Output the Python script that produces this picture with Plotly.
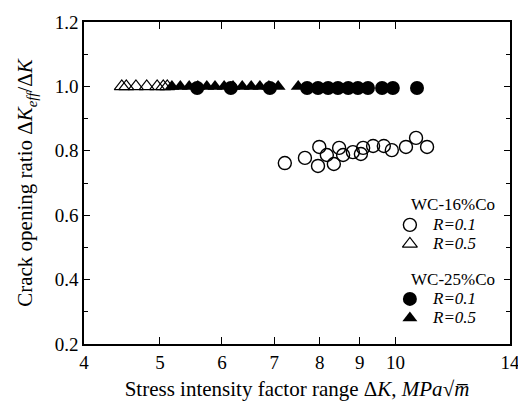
import plotly.graph_objects as go

# WC-16%Co, R=0.1 (open circles)
x16_r01 = [7.22, 7.66, 7.96, 7.99, 8.17, 8.34, 8.47, 8.57, 8.82, 9.03, 9.09, 9.36, 9.66, 9.89, 10.31, 10.62, 10.97]
y16_r01 = [0.762, 0.778, 0.753, 0.812, 0.787, 0.759, 0.809, 0.787, 0.796, 0.790, 0.809, 0.815, 0.815, 0.802, 0.812, 0.840, 0.812]

# WC-16%Co, R=0.5 (open triangles)
x16_r05 = [4.47, 4.53, 4.66, 4.81, 4.96, 5.05, 5.11]
y16_r05 = [1.0, 1.0, 1.0, 1.0, 1.0, 1.0, 1.0]

# WC-25%Co, R=0.1 (filled circles)
x25_r01 = [5.58, 6.16, 6.91, 7.71, 7.96, 8.20, 8.44, 8.70, 8.95, 9.22, 9.61, 9.92, 10.65]
y25_r01 = [0.995] * 13

# WC-25%Co, R=0.5 (filled triangles)
x25_r05 = [5.18, 5.31, 5.45, 5.59, 5.74, 5.88, 6.04, 6.20, 6.37, 6.54, 6.71, 6.89, 7.08, 7.51]
y25_r05 = [1.0] * 14

xtick_vals = [4, 5, 6, 7, 8, 9, 10, 14]
xtick_text = ["4", "5", "6", "7", "8", "9", "10", "14"]
ytick_vals = [0.2, 0.4, 0.6, 0.8, 1.0, 1.2]
ytick_text = ["0.2", "0.4", "0.6", "0.8", "1.0", "1.2"]

# legend key (drawn inside the plot area)
legend_groups = ["WC-16%Co", "WC-25%Co"]
legend_labels = ["R=0.1", "R=0.5", "R=0.1", "R=0.5"]

FONT = "Liberation Serif"
OPEN_CIRCLE = dict(symbol="circle-open", size=13, color="black", line=dict(width=1.4, color="black"))
OPEN_TRI = dict(symbol="triangle-up-open", size=13, color="black", line=dict(width=1.2, color="black"))
FILL_CIRCLE = dict(symbol="circle", size=14, color="black")
FILL_TRI = dict(symbol="triangle-up", size=13, color="black")

fig = go.Figure()
fig.add_trace(go.Scatter(x=x16_r01, y=y16_r01, mode="markers", marker=OPEN_CIRCLE, showlegend=False))
fig.add_trace(go.Scatter(x=x16_r05, y=y16_r05, mode="markers", marker=OPEN_TRI, showlegend=False))
fig.add_trace(go.Scatter(x=x25_r01, y=y25_r01, mode="markers", marker=FILL_CIRCLE, showlegend=False))
fig.add_trace(go.Scatter(x=x25_r05, y=y25_r05, mode="markers", marker=FILL_TRI, showlegend=False))

# legend symbols on an overlay axis with 0..1 range
key_x = 0.765
key_y = [0.370, 0.311, 0.140, 0.081]
key_markers = [OPEN_CIRCLE, OPEN_TRI, FILL_CIRCLE, FILL_TRI]
for yy, mk in zip(key_y, key_markers):
    fig.add_trace(go.Scatter(x=[key_x], y=[yy], mode="markers", marker=mk,
                             xaxis="x2", yaxis="y2", showlegend=False, hoverinfo="skip"))

annotations = []
for txt, yy in zip(legend_groups, [0.432, 0.199]):
    annotations.append(dict(text=txt, x=0.866, y=yy, xref="paper", yref="paper",
                            xanchor="center", yanchor="middle", showarrow=False,
                            font=dict(family=FONT, size=17)))
for txt, yy in zip(legend_labels, key_y):
    annotations.append(dict(text="<i>" + txt + "</i>", x=0.812, y=yy, xref="paper", yref="paper",
                            xanchor="left", yanchor="middle", showarrow=False,
                            font=dict(family=FONT, size=17)))

fig.update_layout(
    width=518, height=401,
    margin=dict(l=84, r=8, t=22, b=57),
    paper_bgcolor="white", plot_bgcolor="white",
    font=dict(family=FONT, size=19, color="black"),
    showlegend=False,
    annotations=annotations,
    xaxis2=dict(overlaying="x", range=[0, 1], visible=False, fixedrange=True),
    yaxis2=dict(overlaying="y", range=[0, 1], visible=False, fixedrange=True),
)

fig.update_layout(xaxis=dict(
    type="log", range=[0.60206, 1.146128],
    tickvals=xtick_vals, ticktext=xtick_text,
    ticks="inside", ticklen=7, tickwidth=1.2, tickcolor="black",
    showline=True, linecolor="black", linewidth=1.5, mirror="ticks",
    showgrid=False, zeroline=False, automargin=False,
    ticklabeloverflow="allow",
    tickfont=dict(family=FONT, size=19),
    title=dict(text="Stress intensity factor range Δ<i>K</i>, <i>MPa</i>√<i>m̅</i>",
               font=dict(family=FONT, size=21), standoff=13),
))
fig.update_layout(yaxis=dict(
    range=[0.2, 1.2],
    tickvals=ytick_vals, ticktext=ytick_text,
    ticks="inside", ticklen=6, tickwidth=1.2, tickcolor="black",
    minor=dict(dtick=0.1, tick0=0.2, ticks="inside", ticklen=4, tickcolor="black", tickwidth=1),
    showline=True, linecolor="black", linewidth=1.5, mirror="ticks",
    showgrid=False, zeroline=False, automargin=False,
    tickfont=dict(family=FONT, size=19),
    title=dict(text="Crack opening ratio Δ<i>K</i><sub><i>eff</i></sub>/Δ<i>K</i>",
               font=dict(family=FONT, size=21), standoff=16),
))

fig.write_html("out.html")
